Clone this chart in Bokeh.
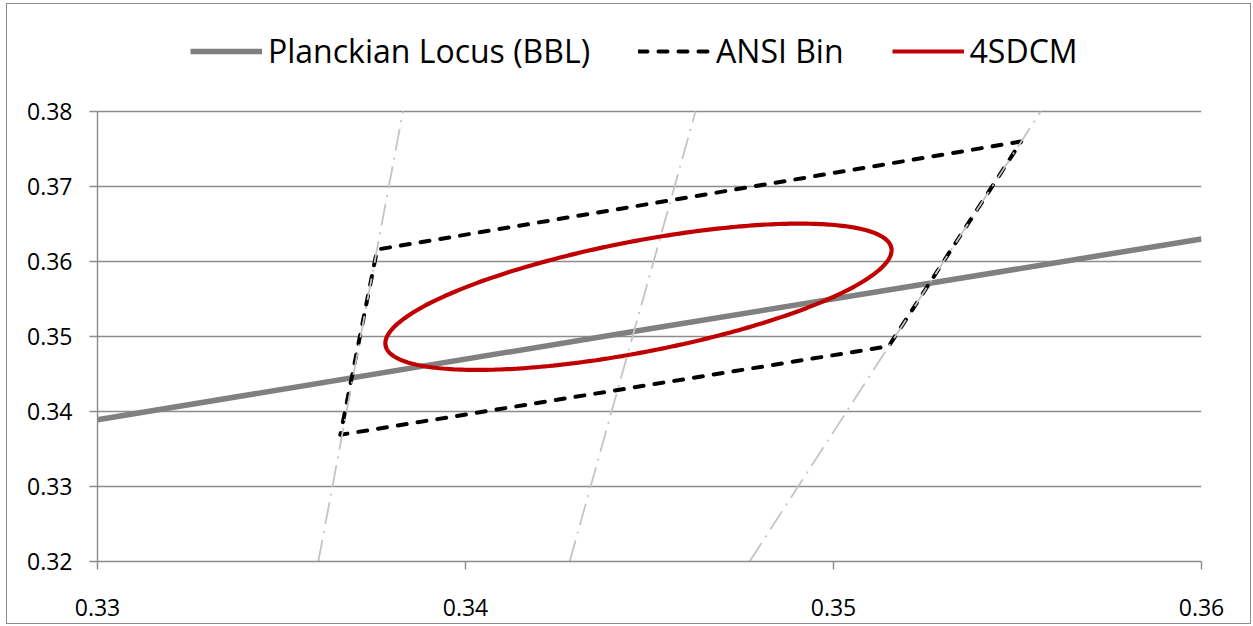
import numpy as np
from bokeh.plotting import figure
from bokeh.models import (Legend, LegendItem, FixedTicker, NumeralTickFormatter, Range1d)
from bokeh.embed import file_html
from bokeh.resources import INLINE

# ---------------- data (CIE 1931 x, y) ----------------
bbl_x = [0.3300, 0.3451, 0.3600]
bbl_y = [0.3389, 0.3511, 0.3630]

ansi_x = [0.3551, 0.3376, 0.3366, 0.3515, 0.3551]
ansi_y = [0.3760, 0.3616, 0.3369, 0.3487, 0.3760]

# isotherm (CCT) lines: x at y=0.32 and y=0.38
iso_y = [0.32, 0.38]
iso1_x = [0.33600, 0.33830]
iso2_x = [0.34283, 0.34625]
iso3_x = [0.34772, 0.35563]

# 4-step MacAdam ellipse parameters
ell_cx = 0.3447
ell_cy = 0.3553
ell_a = 0.01096
ell_b = 0.00472
ell_theta_deg = 59.62

x_ticks = [0.33, 0.34, 0.35, 0.36]
y_ticks = [0.32, 0.33, 0.34, 0.35, 0.36, 0.37, 0.38]
y_min, y_max = 0.32, 0.38

# ellipse outline
t = np.linspace(0, 2 * np.pi, 361)
th = np.deg2rad(ell_theta_deg)
ex = ell_cx + ell_a * np.cos(t) * np.cos(th) - ell_b * np.sin(t) * np.sin(th)
ey = ell_cy + ell_a * np.cos(t) * np.sin(th) + ell_b * np.sin(t) * np.cos(th)

FONT = "Open Sans"
GRID = "#8c8c8c"

# frame extends above 0.38 to leave room for the legend (axis bounded at 0.38)
TOP_ROOM = 0.01347

p = figure(width=1243, height=619, output_backend="svg", toolbar_location=None,
           x_range=Range1d(0.33, 0.36), y_range=Range1d(y_min, y_max + TOP_ROOM),
           min_border_left=90, min_border_right=49, min_border_top=6, min_border_bottom=62)
p.styles = {"outline": "1.5px solid #8c8c8c", "margin-left": "7px", "margin-top": "4px"}
p.outline_line_color = None
p.background_fill_color = "white"
p.border_fill_color = "white"

p.xgrid.visible = False
p.ygrid.grid_line_color = GRID
p.ygrid.grid_line_width = 1.4
p.ygrid.ticker = FixedTicker(ticks=y_ticks)

for ax, ticks in ((p.xaxis, x_ticks), (p.yaxis, y_ticks)):
    ax.ticker = FixedTicker(ticks=ticks)
    ax.formatter = NumeralTickFormatter(format="0.00")
    ax.axis_line_color = GRID
    ax.axis_line_width = 1.4
    ax.major_tick_line_color = GRID
    ax.major_tick_line_width = 1.4
    ax.major_tick_out = 8
    ax.major_tick_in = 0
    ax.minor_tick_line_color = None
    ax.major_label_text_font = FONT
    ax.major_label_text_font_size = "23px"
    ax.major_label_text_color = "black"
p.yaxis.bounds = (y_min, y_max)
p.yaxis.major_label_standoff = 17
p.xaxis.major_label_standoff = 29

r_bbl = p.line(bbl_x, bbl_y, line_color="#808080", line_width=5.5)
r_ansi = p.line(ansi_x, ansi_y, line_color="black", line_width=4, line_dash="9 11",
                line_join="round", line_cap="round")
r_ell = p.line(ex, ey, line_color="#c00000", line_width=4.2)
for xs in (iso1_x, iso2_x, iso3_x):
    p.line(xs, iso_y, line_color="#c4c4c4", line_width=1.8, line_dash="22 7 2 7")

legend = Legend(items=[LegendItem(label="Planckian Locus (BBL)", renderers=[r_bbl]),
                       LegendItem(label="ANSI Bin", renderers=[r_ansi]),
                       LegendItem(label="4SDCM", renderers=[r_ell])],
                orientation="horizontal", location=(93, 489),
                label_text_font=FONT, label_text_font_size="32px",
                label_text_color="black", glyph_width=72, glyph_height=30,
                label_standoff=6, spacing=48, padding=0, margin=0,
                background_fill_alpha=0, border_line_alpha=0)
p.add_layout(legend, "center")

open("out.html", "w").write(file_html(p, INLINE))
